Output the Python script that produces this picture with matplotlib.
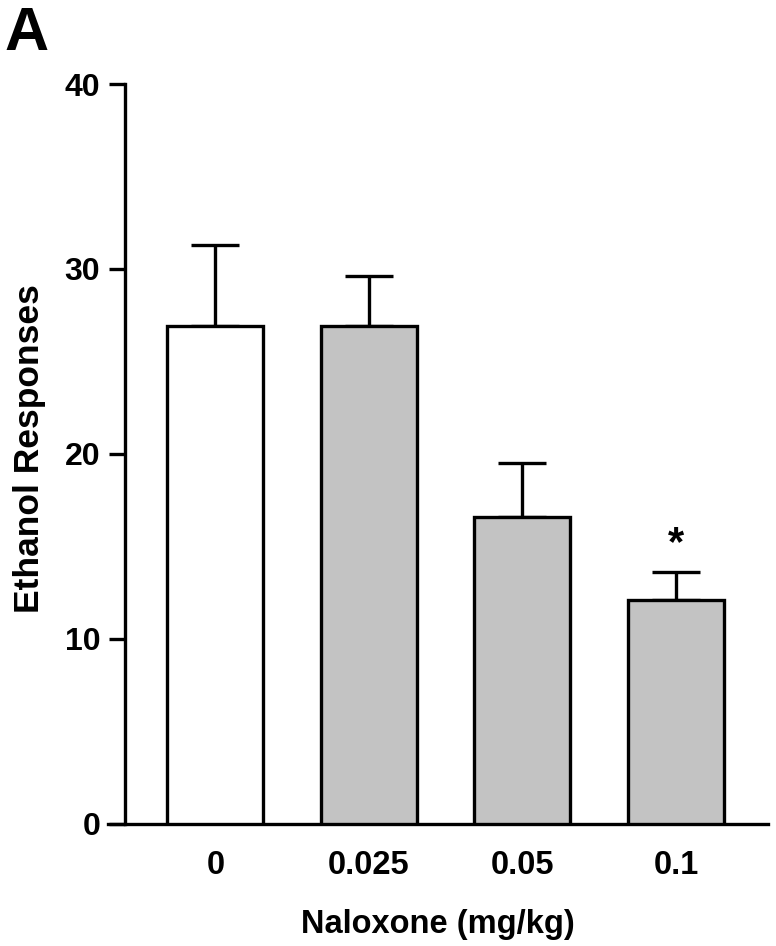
import numpy as np
import matplotlib.pyplot as plt

plt.rcParams['font.family'] = ['Liberation Sans', 'DejaVu Sans']
plt.rcParams['font.weight'] = 'bold'

# data
doses = ['0', '0.025', '0.05', '0.1']
responses = [26.9, 26.9, 16.6, 12.1]
sem = [4.4, 2.7, 2.9, 1.5]
colors = ['white', '#c3c3c3', '#c3c3c3', '#c3c3c3']
signif = ['', '', '', '*']

fig = plt.figure(figsize=(7.76, 9.46), dpi=100)
ax = fig.add_axes([0.1392, 0.129, 0.8505, 0.7822])

x = np.arange(len(doses))
ax.bar(x, responses, width=0.625, color=colors, edgecolor='black',
       linewidth=2.4, zorder=3)
ax.errorbar(x, responses, yerr=[np.zeros(len(sem)), sem], fmt='none',
            ecolor='black', elinewidth=2.4, capsize=17, capthick=2.4, zorder=2)

for xi, yi, e, s in zip(x, responses, sem, signif):
    if s:
        ax.text(xi, yi + e + 1.55, s, ha='center', va='center',
                fontsize=30, fontweight='bold')

ax.set_xlim(-0.70, 3.60)
ax.set_ylim(0, 40)
ax.set_yticks([0, 10, 20, 30, 40])
ax.set_xticks(x)
ax.set_xticklabels(doses)

ax.spines['top'].set_visible(False)
ax.spines['right'].set_visible(False)
ax.spines['left'].set_position(('data', -0.592))
ax.spines['left'].set_linewidth(2.4)
ax.spines['bottom'].set_linewidth(2.4)

ax.tick_params(axis='y', length=11.5, width=2.4, pad=6, labelsize=23)
ax.tick_params(axis='x', length=0, pad=19, labelsize=23.5)
for lab in ax.get_xticklabels() + ax.get_yticklabels():
    lab.set_fontweight('bold')

ax.set_xlabel('Naloxone (mg/kg)', fontsize=23.5, fontweight='bold', labelpad=20)
fig.text(0.038, 0.526, 'Ethanol Responses', rotation=90, ha='center',
         va='center', fontsize=25.5, fontweight='bold')

fig.text(0.006, 0.994, 'A', ha='left', va='top', fontsize=44, fontweight='bold')

fig.savefig('out.png', dpi=100)
